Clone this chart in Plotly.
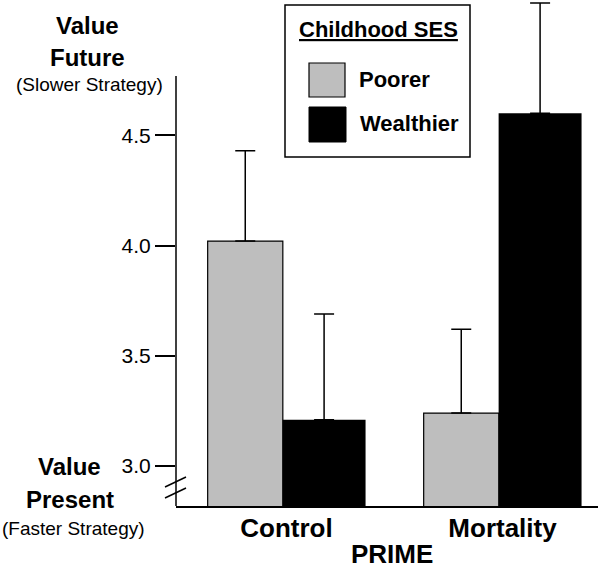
import plotly.graph_objects as go

# ---- data ----
categories = ["Control", "Mortality"]
poorer_vals = [4.02, 3.24]
poorer_err = [0.41, 0.38]
wealthier_vals = [3.21, 4.60]
wealthier_err = [0.48, 0.50]
y_tickvals = [3.0, 3.5, 4.0, 4.5]
y_ticktext = ["3.0", "3.5", "4.0", "4.5"]

FONT = "Liberation Sans, Arial, Helvetica, sans-serif"
GRAY = "#bebebe"

W, H = 600, 566
L, R, T, B = 176, 598, 0, 506      # plot area in pixels (extends to top so the tall error bar shows)
Y_MIN, Y_MAX = 2.8187, 5.1135      # visible value range of the plot area
Y_AXIS_TOP = 4.7688                # where the drawn y-axis line stops


def px(x):
    return (x - L) / (R - L)


def py(y):
    return (B - y) / (B - T)


idx = list(range(len(categories)))

# bar placement styling (offset from category position, width in category units)
P_OFF, P_W = -0.365, 0.348
W_OFF, W_W = -0.018, 0.384

fig = go.Figure()
fig.add_trace(go.Bar(
    x=idx, y=poorer_vals, name="Poorer",
    marker=dict(color=GRAY, line=dict(color="black", width=1.2)),
    offset=P_OFF, width=P_W, showlegend=False,
    error_y=dict(type="data", array=poorer_err, arrayminus=[0] * len(poorer_err),
                 symmetric=False, color="black", thickness=1.5, width=10),
))
fig.add_trace(go.Bar(
    x=idx, y=wealthier_vals, name="Wealthier",
    marker=dict(color="black", line=dict(color="black", width=0)),
    offset=W_OFF, width=W_W, showlegend=False,
    error_y=dict(type="data", array=wealthier_err, arrayminus=[0] * len(wealthier_err),
                 symmetric=False, color="black", thickness=1.5, width=10),
))

shapes = []
# y-axis line (stops below the top of the figure, as in the reference)
shapes.append(dict(type="line", xref="paper", yref="y", x0=0, x1=0,
                   y0=Y_MIN, y1=Y_AXIS_TOP, line=dict(color="black", width=1.5)))
# axis break marks
for y0 in (487, 498):
    shapes.append(dict(type="line", xref="paper", yref="paper",
                       x0=px(165), y0=py(y0), x1=px(186), y1=py(y0 - 10),
                       line=dict(color="black", width=1.5)))
# custom legend box
shapes.append(dict(type="rect", xref="paper", yref="paper",
                   x0=px(285), x1=px(470), y0=py(157), y1=py(5),
                   line=dict(color="black", width=1.5), fillcolor="white", layer="above"))
shapes.append(dict(type="rect", xref="paper", yref="paper",
                   x0=px(309), x1=px(345), y0=py(97), y1=py(63),
                   line=dict(color="black", width=1.2), fillcolor=GRAY, layer="above"))
shapes.append(dict(type="rect", xref="paper", yref="paper",
                   x0=px(309), x1=px(346), y0=py(142), y1=py(107),
                   line=dict(color="black", width=1), fillcolor="black", layer="above"))

annotations = []


def ann(text, x, y, size, bold=False, xanchor="center"):
    annotations.append(dict(
        text=text, xref="paper", yref="paper", x=px(x), y=py(y),
        xanchor=xanchor, yanchor="middle", showarrow=False,
        font=dict(family=FONT, size=size, color="black",
                  weight="bold" if bold else "normal"),
    ))


ann("<u>Childhood SES</u>", 378, 30, 22, True)
ann("Poorer", 357, 80, 22, True, "left")
ann("Wealthier", 358, 123, 22, True, "left")
ann("Value", 87, 25, 24, True)
ann("Future", 87, 57, 24, True)
ann("(Slower Strategy)", 89, 84, 19)
ann("Value", 69, 466, 24, True)
ann("Present", 70, 499, 24, True)
ann("(Faster Strategy)", 73, 528, 19)
ann("PRIME", 392, 554, 26, True)   # x-axis title

fig.update_layout(
    width=W, height=H,
    margin=dict(l=L, r=W - R, t=T, b=H - B, autoexpand=False),
    paper_bgcolor="white", plot_bgcolor="white",
    barmode="overlay",
    font=dict(family=FONT, color="black"),
    shapes=shapes, annotations=annotations,
    xaxis=dict(
        range=[-0.5116, 1.4421],
        tickvals=idx, ticktext=categories,
        showline=True, linecolor="black", linewidth=1.5,
        ticks="", showgrid=False, zeroline=False, automargin=False,
        ticklabelstandoff=-2,
        tickfont=dict(family=FONT, size=26, color="black", weight="bold"),
    ),
    yaxis=dict(
        range=[Y_MIN, Y_MAX],
        tickvals=y_tickvals, ticktext=y_ticktext,
        ticks="outside", ticklen=20, tickwidth=1.5, tickcolor="black",
        showline=False, showgrid=False, zeroline=False, automargin=False,
        tickfont=dict(family=FONT, size=21, color="black"),
    ),
)

fig.write_html(
    "out.html",
    config={"displayModeBar": False},
    post_script="document.body.style.margin='0';document.body.style.padding='0';"
                "document.body.style.overflow='hidden';",
)
